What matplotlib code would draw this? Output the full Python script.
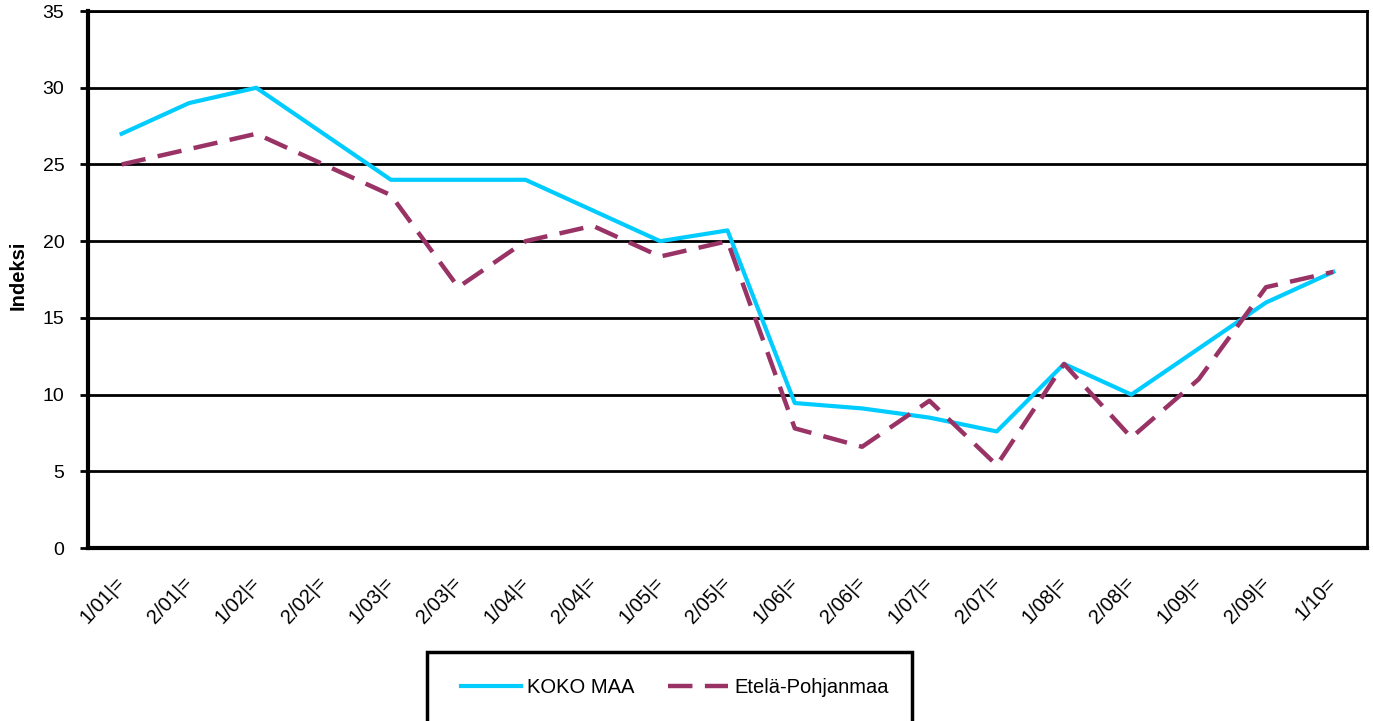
import matplotlib
matplotlib.use("Agg")
import matplotlib.pyplot as plt
from matplotlib.patches import Rectangle

plt.rcParams["font.family"] = ["Liberation Sans", "DejaVu Sans"]

periods = ["1/01|=", "2/01|=", "1/02|=", "2/02|=", "1/03|=", "2/03|=", "1/04|=",
           "2/04|=", "1/05|=", "2/05|=", "1/06|=", "2/06|=", "1/07|=", "2/07|=",
           "1/08|=", "2/08|=", "1/09|=", "2/09|=", "1/10="]
koko_maa = [27, 29, 30, 27, 24, 24, 24, 22, 20, 20.7, 9.45, 9.1, 8.5, 7.6,
            12, 10, 13, 16, 18]
etela_pohjanmaa = [25, 26, 27, 25, 23, 17, 20, 21, 19, 20, 7.8, 6.6, 9.6, 5.4,
                   12, 7.2, 11, 17, 18]

fig = plt.figure(figsize=(13.73, 7.21), dpi=100)
ax = fig.add_axes([0.0641, 0.2399, 0.9315, 0.7448])

x = range(len(periods))
ax.plot(x, koko_maa, color="#00CCFF", lw=3, label="KOKO MAA", zorder=3)
ax.plot(x, etela_pohjanmaa, color="#993366", lw=3.2, dashes=(5.5, 2.8),
        label="Etelä-Pohjanmaa", zorder=4)

ax.set_xlim(-0.5, len(periods) - 0.5)
ax.set_ylim(0, 35)
ax.set_yticks(range(0, 36, 5))
ax.yaxis.grid(True, color="black", lw=2)
ax.set_axisbelow(True)
ax.tick_params(axis="y", labelsize=14, length=6, width=2, pad=11)
ax.set_xticks(list(x))
ax.set_xticklabels(periods, rotation=47, ha="right", va="center",
                   rotation_mode="anchor", fontsize=14.5)
ax.tick_params(axis="x", length=0, pad=23)

for side in ["left", "bottom"]:
    ax.spines[side].set_linewidth(3)
for side in ["top", "right"]:
    ax.spines[side].set_linewidth(2)

ax.set_ylabel("Indeksi", fontsize=14.5, fontweight="bold")
ax.yaxis.set_label_coords(-0.047, 0.508)

# legend box, cut off by the bottom of the image like in the original
fig.patches.append(Rectangle((427 / 1373, -0.05), (912 - 427) / 1373,
                             0.05 + (721 - 652) / 721, transform=fig.transFigure,
                             fill=False, edgecolor="black", lw=2.5))
fig.legend(loc="center", bbox_to_anchor=(0.4916, 0.0458), ncol=2, frameon=False,
           fontsize=14.5, handlelength=3.0, columnspacing=1.65, handletextpad=0.3)

fig.savefig("out.png", dpi=100)
